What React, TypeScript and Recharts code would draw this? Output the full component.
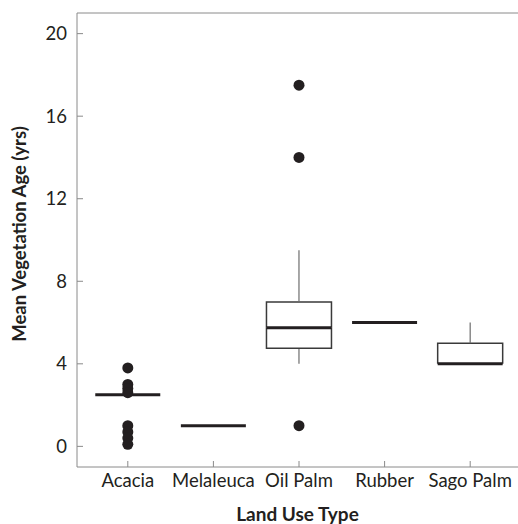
import { ComposedChart, Bar, Scatter, XAxis, YAxis, ReferenceLine } from 'recharts';

const categories = ['Acacia', 'Melaleuca', 'Oil Palm', 'Rubber', 'Sago Palm'];
const whiskerLow = [2.5, 1, 4, 6, 4];
const q1 = [2.5, 1, 4.75, 6, 4];
const median = [2.5, 1, 5.75, 6, 4];
const q3 = [2.5, 1, 7, 6, 5];
const whiskerHigh = [2.5, 1, 9.5, 6, 6];

const outlierCategory = ['Acacia', 'Acacia', 'Acacia', 'Acacia', 'Acacia', 'Acacia', 'Acacia', 'Acacia', 'Oil Palm', 'Oil Palm', 'Oil Palm'];
const outlierValue = [3.8, 3.0, 2.8, 2.6, 1.0, 0.7, 0.4, 0.1, 17.5, 14, 1.0];

const yTicks = [0, 4, 8, 12, 16, 20];

const rows = categories.map((name, i) => ({
  name,
  base: whiskerLow[i],
  lowWhisker: q1[i] - whiskerLow[i],
  lowBox: median[i] - q1[i],
  highBox: q3[i] - median[i],
  highWhisker: whiskerHigh[i] - q3[i],
}));

const outliers = outlierCategory.map((name, i) => ({ name, value: outlierValue[i] }));

const INK = '#231f20';
const AXIS = '#8a8a8a';

const Empty = () => <g />;

const WhiskerShape = (p: any) => {
  if (!p.height) return <g />;
  const cx = p.x + p.width / 2;
  return <line x1={cx} x2={cx} y1={p.y} y2={p.y + p.height} stroke="#6d6d6d" strokeWidth={1.2} />;
};

const LowBoxShape = (p: any) => {
  if (!p.height) return <g />;
  const { x, y, width: w, height: h } = p;
  return <path d={`M${x},${y}L${x},${y + h}L${x + w},${y + h}L${x + w},${y}`} fill="none" stroke="#3a3a3a" strokeWidth={1.5} />;
};

const HighBoxShape = (p: any) => {
  const { x, y, width: w, height: h } = p;
  return (
    <g>
      {h > 0 && (
        <path d={`M${x},${y + h}L${x},${y}L${x + w},${y}L${x + w},${y + h}`} fill="none" stroke="#3a3a3a" strokeWidth={1.5} />
      )}
      <line x1={x} x2={x + w} y1={y + h} y2={y + h} stroke={INK} strokeWidth={3} />
    </g>
  );
};

const Dot = (p: any) => <circle cx={p.cx} cy={p.cy} r={5.5} fill={INK} />;

const YLabel = (props: any) => {
  const vb = props.viewBox;
  const cx = vb.x + 19;
  const cy = vb.y + vb.height / 2 - 6;
  return (
    <text x={cx} y={cy} transform={`rotate(-90 ${cx} ${cy})`} textAnchor="middle" dominantBaseline="central"
      fontFamily="Lato" fontWeight="bold" fontSize={18.5} fill={INK}>
      Mean Vegetation Age (yrs)
    </text>
  );
};

export default function App() {
  return (
    <div style={{ position: 'absolute', left: 0, top: 0, width: 518, height: 524, background: '#fff' }}>
      <ComposedChart
        width={518}
        height={524}
        data={rows}
        margin={{ top: 13, right: 0, left: 0, bottom: 0 }}
        barCategoryGap="12%"
      >
        <XAxis
          dataKey="name"
          type="category"
          allowDuplicatedCategory={false}
          interval={0}
          height={57}
          padding={{ left: 8, right: 5 }}
          stroke={AXIS}
          tickSize={-6}
          tickMargin={13}
          tick={{ fontSize: 18.5, fill: INK, fontFamily: 'Lato' }}
          label={{ value: 'Land Use Type', position: 'insideBottom', offset: 3, fontSize: 19, fontWeight: 'bold', fill: INK, fontFamily: 'Lato' }}
        />
        <YAxis
          type="number"
          domain={[-1, 21]}
          ticks={yTicks}
          interval={0}
          width={77}
          stroke={AXIS}
          tickSize={-6}
          tickMargin={16}
          tick={{ fontSize: 18.5, fill: INK, fontFamily: 'Lato' }}
          label={<YLabel />}
        />
        <ReferenceLine y={21} stroke={AXIS} />
        <Bar dataKey="base" stackId="box" shape={<Empty />} isAnimationActive={false} />
        <Bar dataKey="lowWhisker" stackId="box" shape={WhiskerShape} isAnimationActive={false} />
        <Bar dataKey="lowBox" stackId="box" shape={LowBoxShape} isAnimationActive={false} />
        <Bar dataKey="highBox" stackId="box" shape={HighBoxShape} isAnimationActive={false} />
        <Bar dataKey="highWhisker" stackId="box" shape={WhiskerShape} isAnimationActive={false} />
        <Scatter data={outliers} dataKey="value" shape={Dot} isAnimationActive={false} />
      </ComposedChart>
    </div>
  );
}
